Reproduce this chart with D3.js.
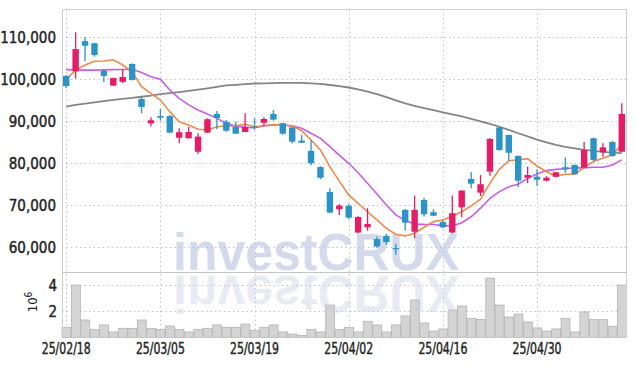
<!DOCTYPE html>
<html>
<head>
<meta charset="utf-8">
<script src="https://cdn.jsdelivr.net/npm/d3@7"></script>
<style>
  html, body { margin: 0; padding: 0; background: #ffffff; }
  svg { display: block; }
</style>
</head>
<body>
<div id="chart"></div>
<script>
// ---------------- data ----------------
const dates = [
  "25/02/18","25/02/19","25/02/20","25/02/21","25/02/24","25/02/25","25/02/26","25/02/27","25/02/28","25/03/04",
  "25/03/05","25/03/06","25/03/07","25/03/10","25/03/11","25/03/12","25/03/13","25/03/14","25/03/17","25/03/18",
  "25/03/19","25/03/20","25/03/21","25/03/24","25/03/25","25/03/26","25/03/27","25/03/28","25/03/31","25/04/01",
  "25/04/02","25/04/03","25/04/04","25/04/07","25/04/08","25/04/09","25/04/10","25/04/11","25/04/14","25/04/15",
  "25/04/16","25/04/17","25/04/18","25/04/21","25/04/22","25/04/23","25/04/24","25/04/25","25/04/28","25/04/29",
  "25/04/30","25/05/02","25/05/07","25/05/08","25/05/09","25/05/12","25/05/13","25/05/14","25/05/15","25/05/16"
];
const openP = [
  100800,101900,109100,108600,102050,98500,99400,103650,95300,89500,
  91250,91250,86100,85950,82750,87300,91750,89850,88700,87450,
  88750,89650,91750,89550,88550,85400,82950,79100,73150,69050,
  69850,63500,64750,61950,62700,59800,68900,63700,71250,68350,
  66000,63500,69500,76250,73000,78000,88550,86750,81750,76550,
  76800,75850,76800,79050,79600,78950,85950,82600,85050,82750
];
const highP = [
  101000,111200,110000,108700,102450,100400,102400,103800,95850,90950,
  92950,91500,88350,88700,87150,90700,92450,90300,89900,91900,
  90700,90950,92700,89600,88600,86750,85550,79300,74050,70300,
  70300,67400,69300,62550,63250,60800,69100,72300,71750,69050,
  66350,72300,73550,77950,77200,86000,88650,86800,81850,79200,
  78550,77000,78000,81450,79700,85050,86100,84750,85300,94300
];
const lowP = [
  97900,100200,104300,105400,99300,98400,99100,99700,91900,88800,
  90150,87150,84750,85900,82200,87200,88100,87500,87000,87400,
  87900,88900,90150,86800,84750,84850,79500,76200,68100,67700,
  66650,63300,63950,59900,60550,58200,63900,62150,67300,67400,
  64500,63300,67150,74050,72200,77000,83000,80550,74300,75250,
  74600,75700,76700,77750,77300,78900,80500,81550,81550,82600
];
const closeP = [
  98400,107200,108000,105800,100800,100300,100550,99850,93400,90250,
  90850,87300,87400,87450,86350,90500,90800,87750,87050,88650,
  88700,90550,90400,87050,85150,84900,80000,76550,68250,69900,
  67050,67200,65550,60150,61200,59750,65850,68900,67850,67500,
  64750,68100,73500,75150,75000,85800,83150,82500,75850,77200,
  76100,76550,77850,78550,77400,83150,80800,83800,81750,91750
];
// volume in millions of shares
const volumeM = [
  0.77,4.02,1.33,0.61,0.95,0.41,0.69,0.69,1.33,0.69,
  0.61,0.87,0.61,0.41,0.61,0.69,0.95,0.77,0.77,1.02,
  0.54,0.77,0.95,0.41,0.25,0.15,0.61,0.41,2.48,0.61,
  0.77,0.41,1.23,0.95,0.41,0.95,1.64,2.87,1.10,0.48,
  0.64,2.10,2.41,1.46,1.38,4.56,2.48,1.56,1.79,1.18,
  0.72,0.48,0.64,1.46,0.41,1.95,1.38,1.38,0.85,4.02
];
const ma5 = [
  100000,102200,103400,104300,104350,104650,103400,101800,98250,96650,
  95050,92300,89900,89100,88100,87950,88700,88900,88900,89300,
  88700,88950,89200,89100,88900,87750,85550,83150,79200,75750,
  72450,70450,68450,66500,64500,63100,62700,63350,64750,66100,
  66500,67450,68450,69850,71450,75250,78550,80600,80800,81100,
  79350,78000,76950,77400,77400,79050,80400,81200,82000,84500
];
const ma20 = [
  102300,102250,102200,102200,102250,102300,102350,102400,101600,100600,
  100000,97450,95450,93900,92700,91750,90700,89550,88900,88550,
  88450,88900,89100,89100,88900,88350,87150,85950,83950,81950,
  80000,77750,75250,72700,70050,67700,66350,65550,65450,65400,
  65150,65050,65850,67250,69300,71650,73250,74400,75000,76400,
  77450,78250,78550,78700,78950,78900,79050,79050,79600,80800
];
const ma60 = [
  93500,93900,94200,94500,94800,95100,95350,95600,95850,96100,
  96450,96700,96950,97250,97550,97850,98200,98550,98700,98850,
  99000,99050,99100,99150,99150,99150,99050,98900,98650,98400,
  98050,97600,97050,96450,95750,95000,94250,93700,93150,92650,
  92150,91650,91150,90600,90000,89400,88700,87950,87150,86400,
  85650,85000,84400,83900,83550,83200,82950,82700,82550,82400
];
const priceTicks = [60000,70000,80000,90000,100000,110000];
const volumeTicks = [2,4];
const dateTickLabels = ["25/02/18","25/03/05","25/03/19","25/04/02","25/04/16","25/04/30"];

// ---------------- layout ----------------
const W = 635, H = 366;
const L = 62, R = 626.5, T = 9, PB = 272, VB = 337.3;
const UP = "#e51c66", DOWN = "#2b93c6";
const FONT = "'Liberation Sans Narrow','DejaVu Sans Condensed','Liberation Sans',sans-serif";

const svg = d3.select("#chart").append("svg")
  .attr("width", W).attr("height", H)
  .style("font-family", FONT);

const x = d3.scaleBand().domain(dates).range([L - 0.5, R]).padding(0);
const xc = d => x(d) + x.bandwidth() / 2;
const yP = d3.scaleLinear().domain([54100, 116750]).range([PB, T]);
const yV = d3.scaleLinear().domain([0, 5]).range([VB, PB + 0.3]);

const gridColor = "#bcc2dc";

// gridlines - price
svg.append("g").selectAll("line").data(priceTicks).join("line")
  .attr("x1", L).attr("x2", R)
  .attr("y1", d => Math.round(yP(d)) + 0.5).attr("y2", d => Math.round(yP(d)) + 0.5)
  .attr("stroke", gridColor).attr("stroke-width", 1).attr("stroke-dasharray", "1.5,3");
// gridlines - volume
svg.append("g").selectAll("line").data(volumeTicks).join("line")
  .attr("x1", L).attr("x2", R)
  .attr("y1", d => Math.round(yV(d)) + 0.5).attr("y2", d => Math.round(yV(d)) + 0.5)
  .attr("stroke", gridColor).attr("stroke-width", 1).attr("stroke-dasharray", "1.5,3");
// vertical gridlines
svg.append("g").selectAll("line").data(dateTickLabels).join("line")
  .attr("x1", d => Math.round(xc(d)) + 0.5).attr("x2", d => Math.round(xc(d)) + 0.5)
  .attr("y1", T).attr("y2", VB)
  .attr("stroke", gridColor).attr("stroke-width", 1).attr("stroke-dasharray", "1.5,3");

// volume bars
svg.append("g").selectAll("rect").data(dates).join("rect")
  .attr("x", d => x(d) + 0.5)
  .attr("width", x.bandwidth() - 0.5)
  .attr("y", (d, i) => yV(volumeM[i]))
  .attr("height", (d, i) => VB - yV(volumeM[i]))
  .attr("fill", "#d4d4d4").attr("stroke", "#b4b4b4").attr("stroke-width", 0.8);

// watermark
const wm = svg.append("g").attr("pointer-events", "none");
wm.append("text")
  .attr("x", 173).attr("y", 270)
  .attr("textLength", 286).attr("lengthAdjust", "spacingAndGlyphs")
  .style("font-family", "'Liberation Sans',sans-serif").style("font-weight", "bold")
  .style("font-size", "51px").attr("fill", "#b9c1e0").attr("fill-opacity", 0.62)
  .text("investCRUX");
wm.append("text")
  .attr("x", 173).attr("y", 270)
  .attr("transform", "translate(0,546) scale(1,-1)")
  .attr("textLength", 286).attr("lengthAdjust", "spacingAndGlyphs")
  .style("font-family", "'Liberation Sans',sans-serif").style("font-weight", "bold")
  .style("font-size", "51px").attr("fill", "#c6cbe0").attr("fill-opacity", 0.4)
  .text("investCRUX");

// borders
const border = "#cfcfcf";
svg.append("line").attr("x1", L + 0.5).attr("x2", L + 0.5).attr("y1", T).attr("y2", VB).attr("stroke", border);
svg.append("line").attr("x1", R).attr("x2", R).attr("y1", T).attr("y2", VB).attr("stroke", border);
svg.append("line").attr("x1", L).attr("x2", R).attr("y1", T + 0.5).attr("y2", T + 0.5).attr("stroke", border);
svg.append("line").attr("x1", L).attr("x2", R).attr("y1", PB + 0.5).attr("y2", PB + 0.5).attr("stroke", "#c4c4c4");

// moving averages
const line = arr => d3.line().x((d, i) => xc(dates[i])).y(d => yP(d))(arr);
svg.append("path").attr("d", line(ma60)).attr("fill", "none").attr("stroke", "#858585").attr("stroke-width", 1.8);
svg.append("path").attr("d", line(ma20)).attr("fill", "none").attr("stroke", "#c95de8").attr("stroke-width", 1.6);
svg.append("path").attr("d", line(ma5)).attr("fill", "none").attr("stroke", "#f0894c").attr("stroke-width", 1.6);

// candles
const bw = 6.4;
const cg = svg.append("g").selectAll("g").data(dates).join("g");
cg.append("line")
  .attr("x1", d => xc(d)).attr("x2", d => xc(d))
  .attr("y1", (d, i) => yP(highP[i])).attr("y2", (d, i) => yP(lowP[i]))
  .attr("stroke", (d, i) => closeP[i] > openP[i] ? UP : DOWN).attr("stroke-width", 1.3);
cg.append("rect")
  .attr("x", d => xc(d) - bw / 2).attr("width", bw)
  .attr("y", (d, i) => yP(Math.max(openP[i], closeP[i])))
  .attr("height", (d, i) => Math.max(1.2, Math.abs(yP(openP[i]) - yP(closeP[i]))))
  .attr("fill", (d, i) => closeP[i] > openP[i] ? UP : DOWN);

// axes labels
const fmt = d3.format(",");
const heavy = sel => sel.attr("stroke", "#222").attr("stroke-width", 0.4).attr("paint-order", "stroke");
svg.append("g").selectAll("text").data(priceTicks).join("text")
  .attr("x", 56).attr("y", d => yP(d)).attr("dy", "0.36em")
  .attr("text-anchor", "end").attr("fill", "#222")
  .style("font-size", "15px")
  .call(heavy)
  .text(d => fmt(d));
svg.append("g").selectAll("text").data(volumeTicks).join("text")
  .attr("x", 57).attr("y", d => yV(d)).attr("dy", "0.36em")
  .attr("text-anchor", "end").attr("fill", "#222")
  .style("font-size", "15px")
  .call(heavy)
  .text(d => d);
const vt = svg.append("text")
  .attr("transform", "translate(37,302) rotate(-90)")
  .attr("text-anchor", "middle").attr("fill", "#222")
  .style("font-size", "13px");
vt.append("tspan").text("10");
vt.append("tspan").attr("dy", "-5").style("font-size", "10px").text("6");

svg.append("g").selectAll("text").data(dateTickLabels).join("text")
  .attr("x", d => xc(d) - 24.5).attr("y", 354)
  .attr("textLength", 49).attr("lengthAdjust", "spacingAndGlyphs")
  .attr("fill", "#222")
  .style("font-size", "15px")
  .call(heavy)
  .text(d => d);
</script>
</body>
</html>
